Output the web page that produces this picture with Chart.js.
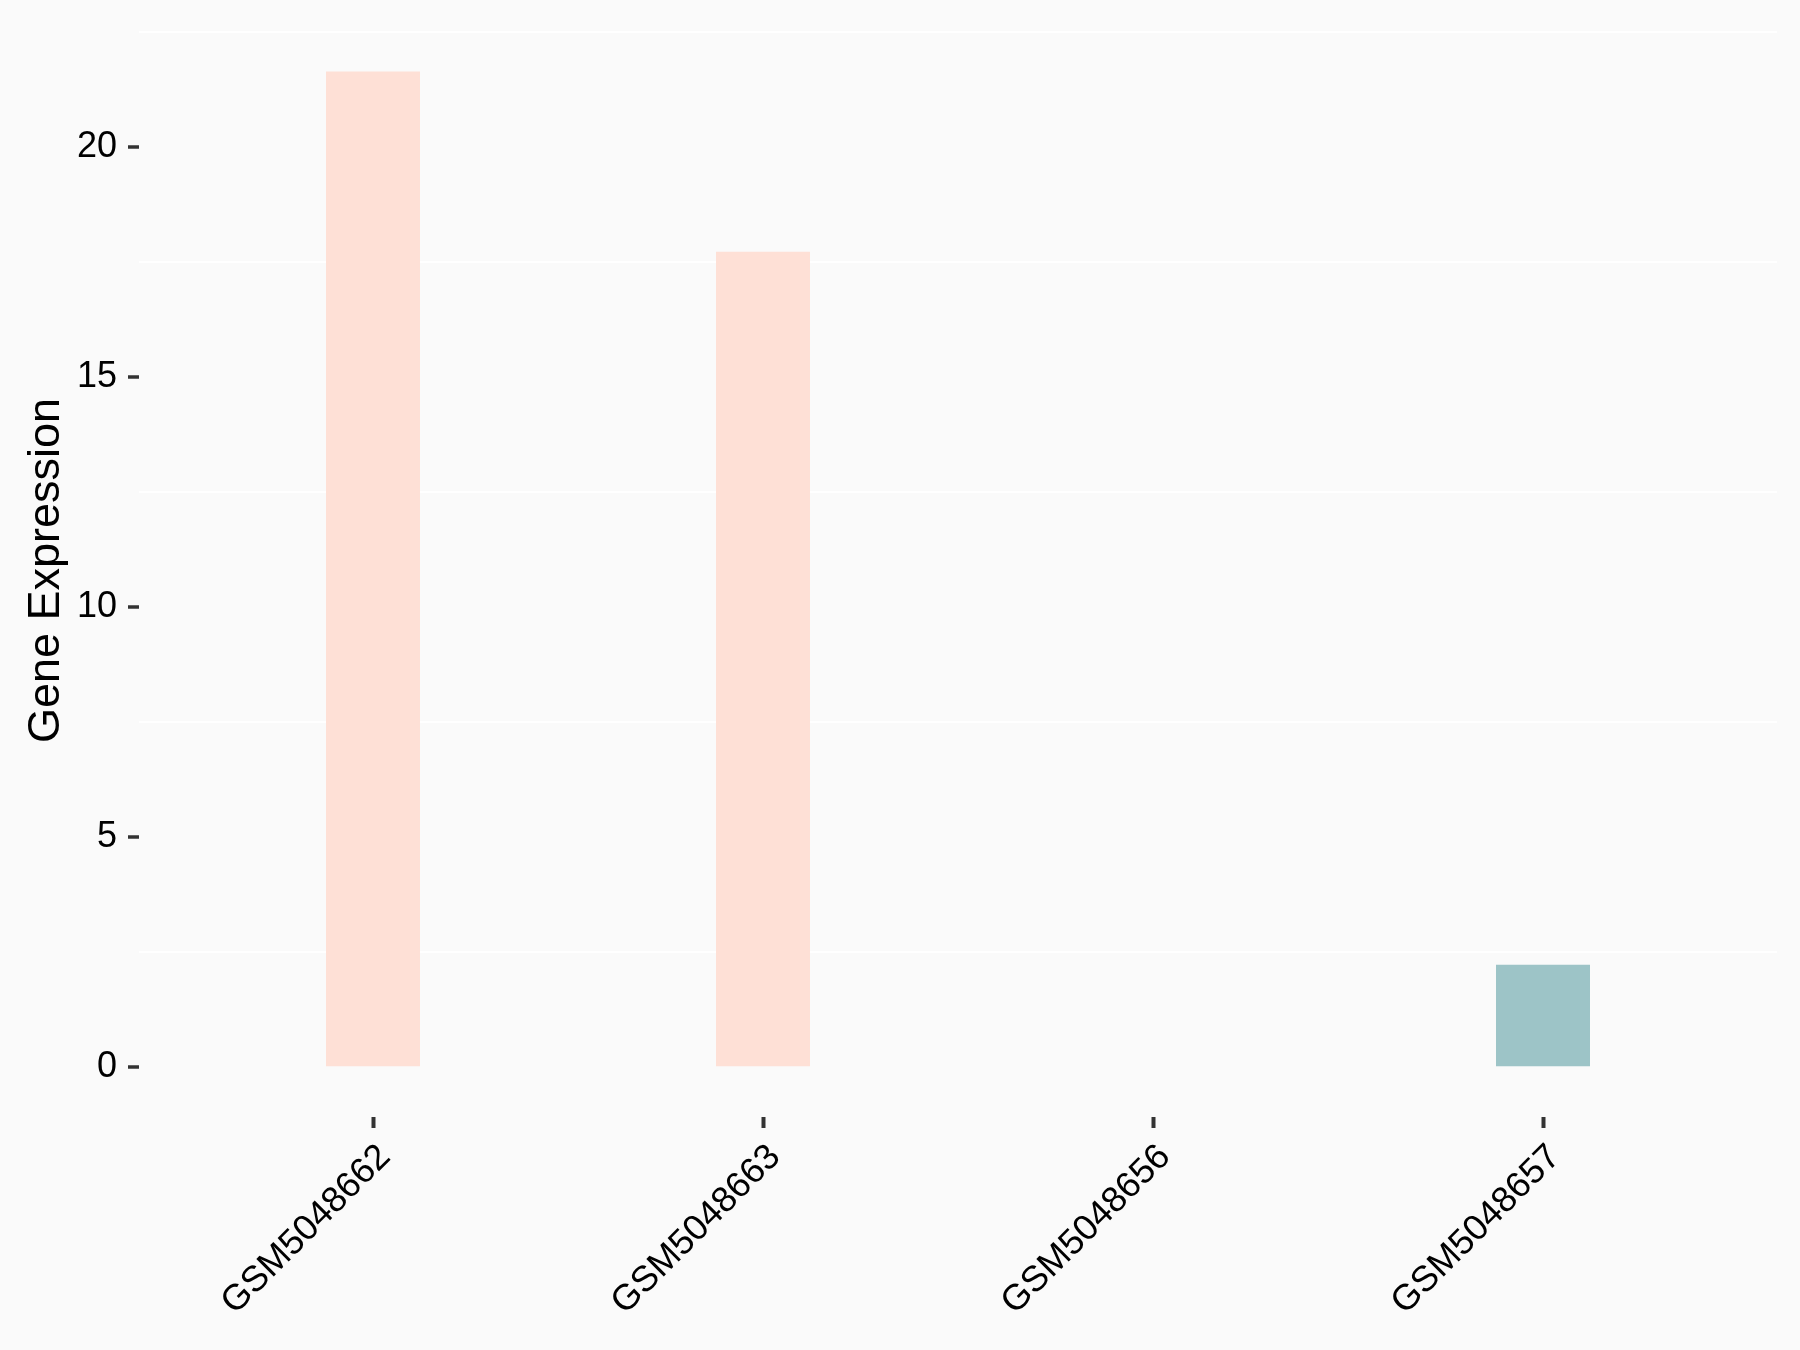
<!DOCTYPE html>
<html>
<head>
<meta charset="utf-8">
<script src="https://cdn.jsdelivr.net/npm/chart.js@4"></script>
<style>
  html, body { margin: 0; padding: 0; background: #FAFAFA; }
  canvas { display: block; }
</style>
</head>
<body>
<canvas id="myChart" width="1800" height="1350"></canvas>
<script>
const samples = ['GSM5048662', 'GSM5048663', 'GSM5048656', 'GSM5048657'];
const expression = [21.65, 17.73, 0, 2.23];
const barColors = ['#FEE0D6', '#FEE0D6', '#FEE0D6', '#9DC4C7'];
const yTicks = [0, 2.5, 5, 7.5, 10, 12.5, 15, 17.5, 20, 22.5];

const isMajor = v => v % 5 === 0;
const ctx = document.getElementById('myChart');

new Chart(ctx, {
  type: 'bar',
  data: {
    datasets: [{
      data: expression.map((v, i) => ({ x: i + 1, y: v })),
      backgroundColor: barColors,
      borderWidth: 0,
      barPercentage: 0.241,
      categoryPercentage: 1
    }]
  },
  options: {
    responsive: false,
    animation: false,
    layout: { padding: { top: 24, right: 23, left: 0, bottom: 0 } },
    plugins: { legend: { display: false }, tooltip: { enabled: false } },
    scales: {
      x: {
        type: 'linear',
        min: 0.4,
        max: 4.6,
        offset: false,
        afterBuildTicks: s => { s.ticks = samples.map((c, i) => ({ value: i + 1 })); },
        afterFit: s => { s.height = 233; s.paddingLeft = 0; s.paddingRight = 0; },
        border: { display: false },
        grid: { offset: false, color: 'rgba(0,0,0,0)', tickColor: '#333333', tickLength: 11, tickWidth: 4 },
        ticks: {
          minRotation: 45,
          maxRotation: 45,
          padding: 8,
          labelOffset: 12,
          color: '#000000',
          font: { family: 'Liberation Sans, Arial', size: 36 },
          callback: v => samples[v - 1]
        }
      },
      y: {
        min: -1.08,
        max: 22.68,
        afterBuildTicks: s => { s.ticks = yTicks.map(v => ({ value: v })); },
        afterFit: s => { s.width = 139; s.paddingTop = 0; s.paddingBottom = 0; },
        border: { display: false },
        grid: {
          lineWidth: 2,
          color: c => isMajor(c.tick.value) ? 'rgba(0,0,0,0)' : '#FFFFFF',
          tickColor: c => isMajor(c.tick.value) ? '#333333' : 'rgba(0,0,0,0)',
          tickLength: 11,
          tickWidth: 3.5
        },
        ticks: {
          padding: 11,
          color: '#000000',
          font: { family: 'Liberation Sans, Arial', size: 36 },
          callback: v => isMajor(v) ? String(v) : ''
        },
        title: {
          display: true,
          text: 'Gene Expression',
          color: '#000000',
          padding: { top: 20, bottom: 0 },
          font: { family: 'Liberation Sans, Arial', size: 45 }
        }
      }
    }
  }
});
</script>
</body>
</html>
